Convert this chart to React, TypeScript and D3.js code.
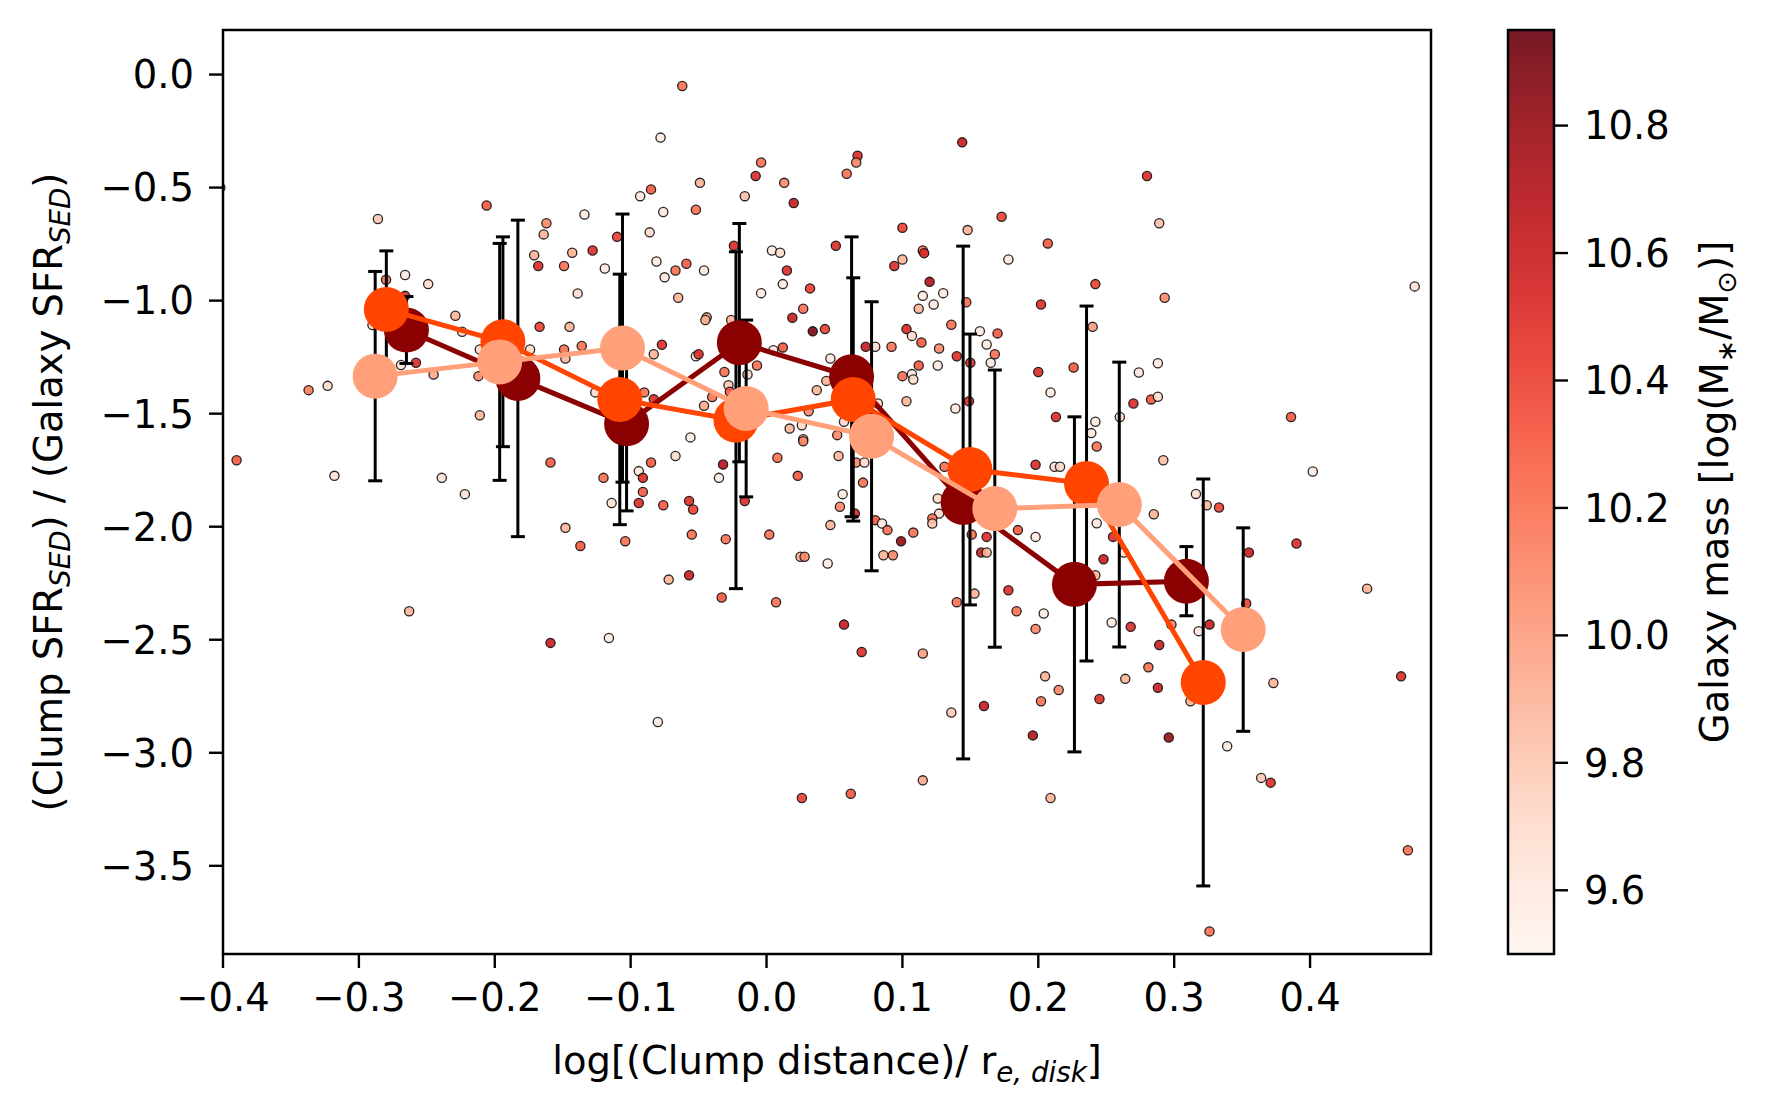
import * as d3 from "d3";

// individual clumps: log distance / r_e, log SFR ratio, host galaxy mass
const clumpDist = [
  -0.402, -0.286, -0.206, -0.28, -0.266, -0.249, -0.266, -0.229, -0.224, -0.29,
  -0.162, -0.164, -0.134, -0.171, -0.168, -0.149, -0.143, -0.128, -0.119, -0.139,
  -0.11, -0.167, -0.145, -0.174, -0.149, -0.136, -0.211,
  -0.062, -0.078, -0.004, -0.008, -0.049, 0.013, -0.016, 0.02, -0.085, -0.093,
  -0.076, -0.052, -0.086, -0.081, -0.067, -0.059, -0.075, -0.046, -0.065, -0.044,
  -0.045, -0.024, 0.004, 0.01, 0.015, 0.012, -0.004, 0.032, 0.027, 0.019,
  0.034, 0.043, -0.026, -0.077, 0.067, 0.066, 0.059, 0.051, 0.144, 0.1,
  0.148, 0.173, 0.115, 0.116, 0.1, 0.094, 0.178, 0.12, 0.115, 0.13,
  0.123, 0.112, 0.147, 0.136, 0.103, 0.107, 0.114, 0.127, 0.157, 0.162,
  0.17, 0.202, 0.073, 0.08, 0.092,
  0.28, 0.289, 0.207, 0.242, 0.293, 0.24, 0.477,
  -0.337, -0.323, -0.39, -0.318, -0.263, -0.269, -0.258, -0.245, -0.212, -0.211,
  -0.239, -0.222, -0.148, -0.126, -0.159, -0.12, -0.114, -0.148, -0.137, -0.104,
  -0.159, -0.116,
  -0.083, -0.052, -0.05, -0.09, -0.083, -0.094, -0.091, -0.091, -0.094, -0.085,
  -0.067, -0.056, -0.076, -0.057, -0.054, -0.055, -0.072, -0.057, -0.046, -0.04,
  -0.031, -0.028, -0.027, -0.032, -0.035, -0.03, -0.033, -0.016, -0.014, -0.007,
  0.005, 0.012, 0.008, 0.002, 0.007, 0.017, 0.026, 0.027, 0.027, 0.031,
  0.023, 0.025, 0.028, 0.047, 0.044, 0.037, 0.047, 0.045, 0.057, 0.052,
  0.053, 0.056, 0.054, 0.065, 0.057, 0.066, 0.072, 0.071, 0.07, 0.08,
  0.085, 0.089, 0.086, 0.093, 0.099, 0.108, 0.082, 0.1, 0.107, 0.108,
  0.103, 0.112, 0.126, 0.14, 0.15, 0.165, 0.168, 0.139, 0.149, 0.131,
  0.126, 0.127, 0.122, 0.122, 0.151, 0.162, 0.158, 0.162, 0.185, 0.198,
  0.2, 0.178, 0.184, 0.198, 0.14, 0.153, 0.115,
  0.226, 0.209, 0.213, 0.198, 0.212, 0.216, 0.204, 0.242, 0.239, 0.243,
  0.26, 0.274, 0.288, 0.27, 0.283, 0.288, 0.292, 0.243, 0.255, 0.248,
  0.242, 0.263, 0.285, 0.254, 0.268, 0.289, 0.298, 0.316, 0.324, 0.333,
  0.355, 0.353, 0.326, 0.318, 0.386, 0.402, 0.39, 0.442,
  -0.08, 0.026, 0.062, 0.115, 0.136, 0.16, 0.196,
  0.205, 0.215, 0.202, 0.209, 0.245, 0.264, 0.281, 0.288, 0.296, 0.312,
  0.339, 0.326, 0.373, 0.364, 0.371, 0.467, 0.472,
];
const clumpSfr = [
  -0.5, -0.639, -0.579, -0.908, -0.887, -0.927, -0.979, -1.067, -1.138, -1.108,
  -0.658, -0.707, -0.619, -0.799, -0.847, -0.847, -0.788, -0.778, -0.858, -0.968,
  -0.718, -1.116, -1.116, -1.216, -1.216, -1.201, -1.216,
  -0.051, -0.279, -0.389, -0.449, -0.479, -0.479, -0.538, -0.568, -0.508, -0.538,
  -0.608, -0.598, -0.698, -0.827, -0.867, -0.837, -0.897, -0.867, -0.987, -1.074,
  -1.086, -0.757, -0.778, -0.788, -0.867, -0.927, -0.967, -0.946, -1.036, -1.076,
  -1.136, -1.126, -1.086, -1.195, -0.359, -0.389, -0.439, -0.757, -0.3, -0.678,
  -0.688, -0.629, -0.778, -0.79, -0.818, -0.847, -0.818, -0.917, -0.979, -0.967,
  -1.017, -1.036, -1.007, -1.107, -1.126, -1.156, -1.185, -1.212, -1.135, -1.194,
  -1.145, -1.017, -1.204, -1.204, -1.204,
  -0.449, -0.658, -0.747, -0.927, -0.987, -1.116, -0.937,
  -1.396, -1.377, -1.706, -1.775, -2.374, -1.285, -1.275, -1.327, -1.334, -1.507,
  -1.784, -1.856, -1.256, -1.406, -1.716, -1.784, -1.895, -2.005, -2.085, -2.064,
  -2.514, -2.492,
  -1.237, -1.246, -1.237, -1.406, -1.436, -1.754, -1.784, -1.846, -1.895, -1.716,
  -1.687, -1.605, -1.905, -1.886, -1.924, -2.035, -2.234, -2.215, -1.465, -1.426,
  -1.316, -1.374, -1.403, -1.725, -1.784, -2.055, -2.313, -1.886, -1.327, -1.287,
  -1.219, -1.207, -1.695, -2.035, -2.334, -1.566, -1.551, -1.613, -1.622, -1.489,
  -1.775, -2.133, -2.133, -1.256, -1.355, -1.396, -1.993, -2.163, -2.433, -1.595,
  -1.687, -1.856, -1.912, -1.942, -1.536, -1.716, -1.716, -1.805, -2.554, -1.971,
  -1.986, -2.015, -2.126, -2.126, -2.064, -2.026, -1.455, -1.334, -1.325, -1.349,
  -1.445, -1.287, -1.287, -1.246, -1.275, -1.275, -1.237, -1.477, -1.445, -1.735,
  -1.875, -1.942, -1.964, -1.986, -2.035, -2.045, -2.114, -2.114, -2.015, -2.045,
  -1.316, -2.281, -2.374, -2.452, -2.334, -2.296, -2.561,
  -1.296, -1.406, -1.515, -1.726, -1.735, -1.735, -2.384, -1.536, -1.586, -1.645,
  -1.515, -1.318, -1.277, -1.455, -1.437, -1.425, -1.706, -1.985, -2.045, -2.144,
  -2.215, -2.114, -1.945, -2.424, -2.443, -2.523, -2.433, -1.855, -1.905, -1.915,
  -2.114, -2.34, -2.433, -2.462, -1.515, -1.756, -2.074, -2.274,
  -2.864, -3.2, -3.181, -3.122, -2.822, -2.793, -2.923,
  -2.662, -2.722, -2.772, -3.2, -2.762, -2.673, -2.622, -2.712, -2.932, -2.772,
  -2.971, -3.79, -2.691, -3.111, -3.132, -2.662, -3.431,
];
const galMass = [
  10.0, 9.8, 10.3, 10.2, 9.6, 9.7, 10.5, 9.9, 9.7, 9.7,
  10.1, 9.9, 9.6, 9.9, 10.5, 10.2, 9.9, 10.5, 9.6, 9.7,
  10.4, 10.4, 9.9, 9.7, 10.2, 10.2, 9.7,
  10.2, 9.6, 10.2, 10.5, 9.9, 10.1, 9.85, 10.6, 10.3, 9.6,
  9.6, 10.2, 9.7, 9.6, 10.2, 10.3, 9.6, 9.6, 9.9, 10.0,
  9.9, 10.5, 9.6, 9.7, 10.5, 9.6, 9.6, 10.4, 10.2, 10.6,
  10.9, 10.4, 9.9, 10.5, 10.5, 10.1, 10.2, 10.5, 10.6, 10.4,
  9.9, 10.4, 10.2, 10.5, 9.9, 10.5, 9.6, 10.7, 9.6, 9.6,
  9.6, 9.9, 10.2, 10.2, 10.5, 9.7, 10.3, 10.1, 9.6, 9.6,
  10.3, 10.5, 10.6, 9.7, 10.2,
  10.5, 9.85, 10.3, 10.4, 10.1, 10.0, 9.65,
  10.15, 9.7, 10.3, 9.65, 9.9, 9.6, 10.5, 9.95, 10.1, 9.9,
  9.65, 9.65, 9.9, 9.7, 10.3, 10.2, 9.65, 9.9, 10.3, 10.2,
  10.6, 9.6,
  9.9, 9.6, 10.5, 10.2, 10.5, 9.6, 10.5, 10.3, 10.5, 10.3,
  9.7, 9.6, 10.3, 10.5, 10.4, 10.2, 9.9, 10.6, 9.95, 10.2,
  10.2, 9.8, 10.3, 10.7, 9.6, 10.2, 10.3, 10.5, 9.7, 10.2,
  9.6, 10.3, 10.2, 10.2, 10.2, 9.9, 9.7, 9.9, 10.1, 10.1,
  10.3, 9.9, 10.1, 9.6, 9.9, 9.9, 9.9, 9.6, 10.6, 10.1,
  9.9, 9.6, 10.1, 10.5, 9.7, 10.1, 9.7, 10.2, 10.5, 10.3,
  9.6, 10.2, 9.9, 10.1, 10.8, 10.2, 9.7, 10.2, 9.6, 9.7,
  9.9, 10.3, 9.6, 10.5, 10.5, 9.6, 10.2, 9.6, 10.5, 10.2,
  9.7, 9.7, 10.2, 9.8, 10.2, 10.5, 10.6, 9.9, 10.3, 9.6,
  10.5, 10.5, 10.2, 10.1, 10.2, 9.9, 10.0,
  10.3, 9.6, 10.5, 10.5, 9.7, 9.7, 9.6, 9.6, 9.6, 10.2,
  9.7, 9.6, 9.6, 10.5, 10.3, 9.7, 9.85, 9.6, 10.5, 10.6,
  9.9, 9.7, 9.9, 9.6, 10.5, 10.6, 10.1, 9.7, 9.9, 10.4,
  10.6, 10.4, 10.6, 9.6, 10.3, 9.6, 10.5, 9.9,
  9.6, 10.4, 10.3, 9.95, 9.8, 10.6, 10.7,
  9.9, 10.1, 10.2, 9.9, 10.5, 9.9, 10.2, 10.6, 10.8, 9.9,
  9.6, 10.2, 9.9, 9.8, 10.5, 10.5, 10.2,
];

// binned medians for three galaxy-mass bins
const highX = [-0.265, -0.183, -0.103, -0.02, 0.0626, 0.1447, 0.2266, 0.309];
const highY = [-1.13, -1.344, -1.545, -1.186, -1.337, -1.893, -2.255, -2.241];
const highErr = [0.148, 0.7, 0.385, 0.527, 0.619, 1.134, 0.741, 0.153];

const midX = [-0.2798, -0.194, -0.108, -0.0225, 0.0638, 0.1497, 0.2355, 0.3214];
const midY = [-1.039, -1.182, -1.437, -1.529, -1.437, -1.747, -1.809, -2.689];
const midErr = [0.259, 0.464, 0.554, 0.745, 0.538, 0.599, 0.785, 0.9];

const lowX = [-0.288, -0.1964, -0.106, -0.015, 0.0773, 0.168, 0.2596, 0.3508];
const lowY = [-1.334, -1.271, -1.21, -1.477, -1.6, -1.92, -1.902, -2.455];
const lowErr = [0.463, 0.524, 0.593, 0.391, 0.595, 0.613, 0.63, 0.45];

const xTicks = [-0.4, -0.3, -0.2, -0.1, 0.0, 0.1, 0.2, 0.3, 0.4];
const yTicks = [0.0, -0.5, -1.0, -1.5, -2.0, -2.5, -3.0, -3.5];
const cTicks = [9.6, 9.8, 10.0, 10.2, 10.4, 10.6, 10.8];

const W = 1768;
const H = 1118;
const plot = { left: 223, right: 1431, top: 30, bottom: 954 };
const cbar = { left: 1508, right: 1554 };
const font = "DejaVu Sans";
const fs = 38.5;

const series = [
  { xs: highX, ys: highY, errs: highErr, color: "darkred" },
  { xs: midX, ys: midY, errs: midErr, color: "orangered" },
  { xs: lowX, ys: lowY, errs: lowErr, color: "lightsalmon" },
];

export default function App() {
  const x = d3.scaleLinear().domain([-0.4, 0.489]).range([plot.left, plot.right]);
  const y = d3.scaleLinear().domain([-3.89, 0.197]).range([plot.bottom, plot.top]);
  const c = d3.scaleLinear().domain([9.5, 10.95]).range([plot.bottom, plot.top]);
  const norm = d3.scaleLinear().domain([9.5, 10.95]).range([0, 1]).clamp(true);
  const color = (m: number) => d3.interpolateReds(norm(m));
  const fmt = d3.format(".1f");

  const stops = d3.range(0, 1.0001, 0.02);

  return (
    <svg
      width={W}
      height={H}
      style={{ position: "absolute", left: 0, top: 0, background: "#fff" }}
      fontFamily={font}
    >
      <defs>
        <clipPath id="plotClip">
          <rect x={plot.left} y={plot.top} width={plot.right - plot.left} height={plot.bottom - plot.top} />
        </clipPath>
        <linearGradient id="cmap" x1="0" y1="1" x2="0" y2="0">
          {stops.map((t) => (
            <stop key={t} offset={t} stopColor={d3.interpolateReds(t)} />
          ))}
        </linearGradient>
      </defs>

      {/* scatter of clumps */}
      <g clipPath="url(#plotClip)">
        {clumpDist.map((d, i) => (
          <circle
            key={i}
            cx={x(d)}
            cy={y(clumpSfr[i])}
            r={4.6}
            fill={color(galMass[i])}
            fillOpacity={0.9}
            stroke="#111"
            strokeOpacity={0.9}
            strokeWidth={1.3}
          />
        ))}

        {/* error bars under all lines */}
        {series.map((s, k) => (
          <g key={"e" + k} stroke="#000" strokeWidth={3}>
            {s.xs.map((d, i) => {
              const cx = x(d);
              const y1 = y(s.ys[i] + s.errs[i]);
              const y2 = y(s.ys[i] - s.errs[i]);
              return (
                <g key={i}>
                  <line x1={cx} x2={cx} y1={y1} y2={y2} />
                  <line x1={cx - 7} x2={cx + 7} y1={y1} y2={y1} />
                  <line x1={cx - 7} x2={cx + 7} y1={y2} y2={y2} />
                </g>
              );
            })}
          </g>
        ))}

        {series.map((s, k) => {
          const pts = s.xs.map((d, i) => [x(d), y(s.ys[i])] as [number, number]);
          const path = d3.line()(pts) || "";
          return (
            <g key={"l" + k}>
              <path d={path} fill="none" stroke={s.color} strokeWidth={5} />
              {pts.map((p, i) => (
                <circle key={i} cx={p[0]} cy={p[1]} r={22.5} fill={s.color} />
              ))}
            </g>
          );
        })}
      </g>

      {/* frame */}
      <rect
        x={plot.left}
        y={plot.top}
        width={plot.right - plot.left}
        height={plot.bottom - plot.top}
        fill="none"
        stroke="#000"
        strokeWidth={2.5}
      />

      {/* x axis */}
      {xTicks.map((t) => (
        <g key={t} transform={`translate(${x(t)},${plot.bottom})`}>
          <line y2={14} stroke="#000" strokeWidth={2.4} />
          <text y={57} textAnchor="middle" fontSize={fs}>
            {fmt(t)}
          </text>
        </g>
      ))}
      <text x={(plot.left + plot.right) / 2} y={1074} textAnchor="middle" fontSize={fs}>
        log[(Clump distance)/ r
        <tspan fontSize={fs * 0.72} fontStyle="italic" dy={8}>
          e, disk
        </tspan>
        <tspan dy={-8}>]</tspan>
      </text>

      {/* y axis */}
      {yTicks.map((t) => (
        <g key={t} transform={`translate(${plot.left},${y(t)})`}>
          <line x2={-14} stroke="#000" strokeWidth={2.4} />
          <text x={-29} dy="0.36em" textAnchor="end" fontSize={fs}>
            {fmt(t)}
          </text>
        </g>
      ))}
      <text
        transform={`translate(62,${(plot.top + plot.bottom) / 2}) rotate(-90)`}
        textAnchor="middle"
        fontSize={fs}
      >
        (Clump SFR
        <tspan fontSize={fs * 0.72} fontStyle="italic" dy={8}>
          SED
        </tspan>
        <tspan dy={-8}>) / (Galaxy SFR</tspan>
        <tspan fontSize={fs * 0.72} fontStyle="italic" dy={8}>
          SED
        </tspan>
        <tspan dy={-8}>)</tspan>
      </text>

      {/* colorbar */}
      <rect
        x={cbar.left}
        y={plot.top}
        width={cbar.right - cbar.left}
        height={plot.bottom - plot.top}
        fill="url(#cmap)"
        fillOpacity={0.9}
        stroke="#000"
        strokeWidth={2.5}
      />
      {cTicks.map((t) => (
        <g key={t} transform={`translate(${cbar.right},${c(t)})`}>
          <line x2={14} stroke="#000" strokeWidth={2.4} />
          <text x={30} dy="0.36em" fontSize={fs}>
            {fmt(t)}
          </text>
        </g>
      ))}
      <text
        transform={`translate(1728,${(plot.top + plot.bottom) / 2}) rotate(-90)`}
        textAnchor="middle"
        fontSize={fs}
      >
        Galaxy mass [log(M
        <tspan fontSize={fs * 0.7} dy={8}>
          ∗
        </tspan>
        <tspan dy={-8}>/M</tspan>
        <tspan fontSize={fs * 0.7} dy={8}>
          ⊙
        </tspan>
        <tspan dy={-8}>)]</tspan>
      </text>
    </svg>
  );
}
